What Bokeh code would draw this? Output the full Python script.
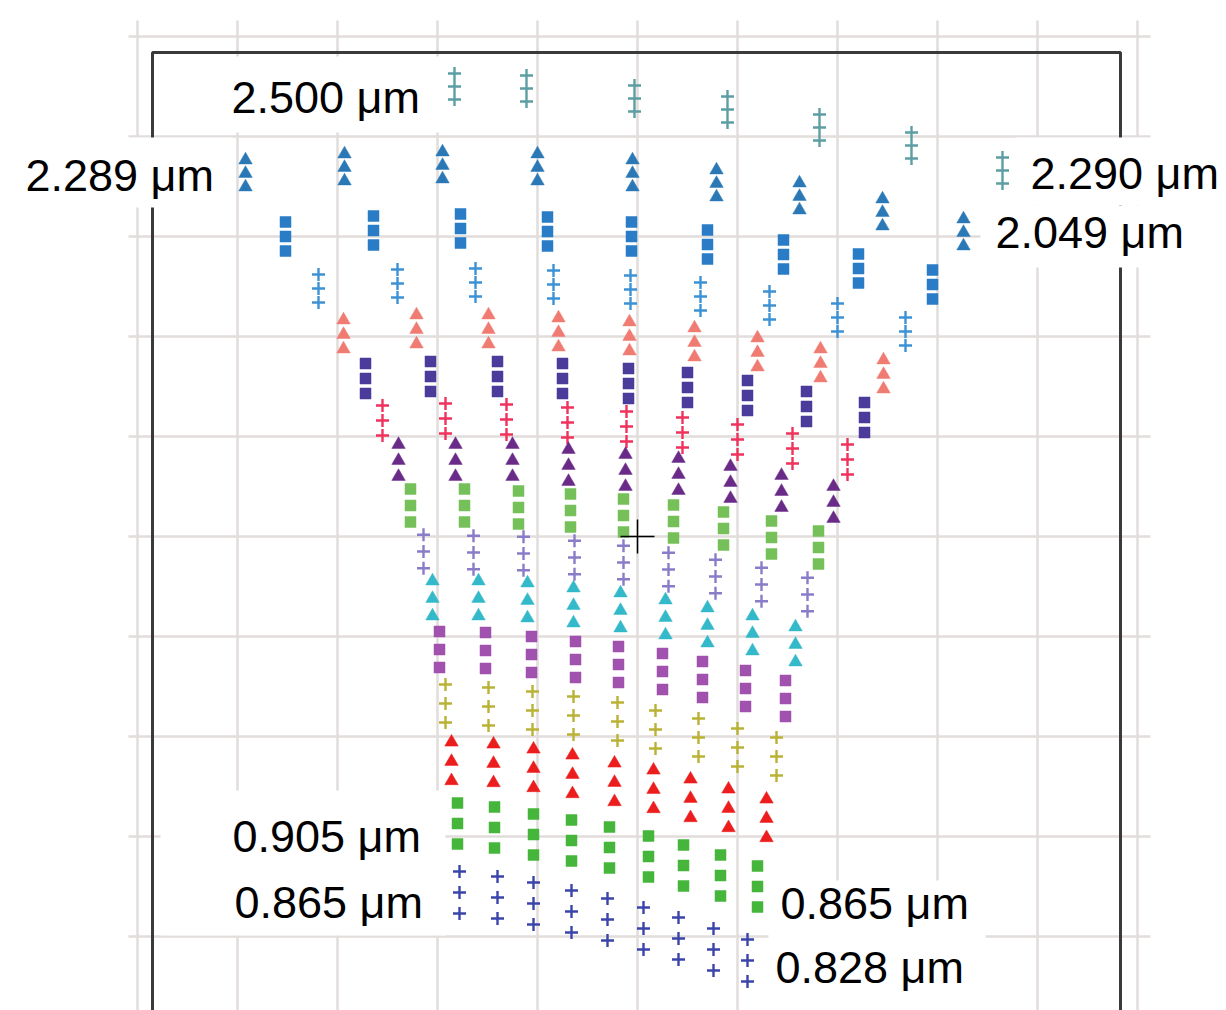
from bokeh.plotting import figure
from bokeh.models import Range1d, ColumnDataSource
from bokeh.embed import file_html
from bokeh.resources import INLINE
from bokeh.core.properties import value

# ---------------- data (focal-plane coordinates, 1 unit = 1 grid cell) -------------
# centre of each slit image, per spectral order (top to bottom), per wavelength sample
o01_x = [-1.83, -1.11, -0.03, 0.90, 1.82, 2.74, 3.65]
o01_y = [4.50, 4.48, 4.38, 4.27, 4.09, 3.91, 3.66]
o02_x = [-3.92, -2.93, -1.95, -1.00, -0.05, 0.79, 1.62, 2.45, 3.26]
o02_y = [3.63, 3.69, 3.71, 3.69, 3.63, 3.53, 3.40, 3.24, 3.04]
o03_x = [-3.52, -2.64, -1.77, -0.90, -0.06, 0.70, 1.46, 2.21, 2.95]
o03_y = [3.00, 3.06, 3.08, 3.05, 3.00, 2.92, 2.82, 2.68, 2.52]
o04_x = [-3.19, -2.40, -1.62, -0.84, -0.07, 0.63, 1.32, 2.00, 2.68]
o04_y = [2.48, 2.53, 2.54, 2.52, 2.47, 2.40, 2.31, 2.19, 2.05]
o05_x = [-2.94, -2.21, -1.49, -0.79, -0.08, 0.57, 1.20, 1.83, 2.46]
o05_y = [2.02, 2.07, 2.07, 2.04, 2.00, 1.94, 1.84, 1.73, 1.62]
o06_x = [-2.72, -2.07, -1.40, -0.75, -0.09, 0.50, 1.10, 1.69, 2.27]
o06_y = [1.58, 1.60, 1.60, 1.58, 1.53, 1.49, 1.41, 1.30, 1.19]
o07_x = [-2.55, -1.92, -1.31, -0.70, -0.11, 0.45, 1.00, 1.55, 2.10]
o07_y = [1.16, 1.18, 1.17, 1.14, 1.10, 1.04, 0.97, 0.88, 0.77]
o08_x = [-2.39, -1.82, -1.25, -0.69, -0.12, 0.41, 0.93, 1.44, 1.96]
o08_y = [0.76, 0.76, 0.76, 0.71, 0.66, 0.62, 0.54, 0.45, 0.34]
o09_x = [-2.27, -1.73, -1.19, -0.67, -0.14, 0.36, 0.86, 1.34, 1.81]
o09_y = [0.31, 0.31, 0.29, 0.26, 0.21, 0.15, 0.08, -0.01, -0.11]
o10_x = [-2.14, -1.64, -1.14, -0.63, -0.14, 0.31, 0.78, 1.24, 1.70]
o10_y = [-0.15, -0.16, -0.17, -0.21, -0.26, -0.33, -0.40, -0.48, -0.58]
o11_x = [-2.05, -1.59, -1.10, -0.64, -0.17, 0.28, 0.70, 1.15, 1.58]
o11_y = [-0.62, -0.62, -0.64, -0.69, -0.74, -0.81, -0.89, -0.97, -1.08]
o12_x = [-1.98, -1.52, -1.06, -0.62, -0.19, 0.25, 0.65, 1.08, 1.48]
o12_y = [-1.13, -1.14, -1.18, -1.23, -1.28, -1.35, -1.43, -1.52, -1.62]
o13_x = [-1.92, -1.49, -1.05, -0.64, -0.20, 0.18, 0.61, 1.00, 1.39]
o13_y = [-1.67, -1.70, -1.74, -1.79, -1.85, -1.93, -2.01, -2.11, -2.20]
o14_x = [-1.86, -1.44, -1.04, -0.65, -0.23, 0.16, 0.53, 0.91, 1.29]
o14_y = [-2.25, -2.27, -2.32, -2.38, -2.46, -2.53, -2.62, -2.72, -2.82]
o15_x = [-1.80, -1.43, -1.04, -0.66, -0.28, 0.11, 0.46, 0.83, 1.20]
o15_y = [-2.87, -2.91, -2.98, -3.04, -3.11, -3.20, -3.29, -3.39, -3.50]
o16_x = [-1.78, -1.40, -1.04, -0.66, -0.30, 0.06, 0.41, 0.76, 1.10]
o16_y = [-3.56, -3.61, -3.67, -3.75, -3.83, -3.92, -4.02, -4.13, -4.24]

# separation of the three field points within each slit image (per order)
slit_step = [0.13, 0.135, 0.145, 0.14, 0.145, 0.15, 0.15, 0.16,
             0.165, 0.167, 0.175, 0.18, 0.19, 0.193, 0.205, 0.21]
field_points = [-1, 0, 1]

order_colors = ["#5c9ea3", "#2a78b5", "#2a7cc6", "#3d92d6", "#f07b72", "#4b3b9b",
                "#f0325c", "#6a2a88", "#76c05a", "#8a7cc8", "#33b9c9", "#a052ae",
                "#b9b236", "#ec1d1d", "#45b63b", "#3b44aa"]
order_markers = ["cross", "triangle", "square"] * 5 + ["cross"]

# wavelength labels
label_text = ["2.500 μm", "2.289 μm", "2.290 μm", "2.049 μm",
              "0.905 μm", "0.865 μm", "0.865 μm", "0.828 μm"]
label_x = [-4.06, -6.12, 3.93, 3.58, -4.05, -4.03, 1.43, 1.38]
label_y = [4.39, 3.61, 3.63, 3.04, -3.00, -3.66, -3.67, -4.31]

# white label backgrounds (left, right, top, bottom)
box_l = [-4.37, -6.37, 3.78, 3.43, -4.77, 1.31]
box_r = [-1.97, -4.05, 5.89, 5.89, -1.92, 3.48]
box_t = [4.80, 3.99, 3.99, 3.31, -2.54, -3.44]
box_b = [4.04, 3.29, 3.31, 2.69, -3.99, -4.74]

grid_x = list(range(-5, 6))
grid_y = list(range(-4, 6))

orders_x = [o01_x, o02_x, o03_x, o04_x, o05_x, o06_x, o07_x, o08_x,
            o09_x, o10_x, o11_x, o12_x, o13_x, o14_x, o15_x, o16_x]
orders_y = [o01_y, o02_y, o03_y, o04_y, o05_y, o06_y, o07_y, o08_y,
            o09_y, o10_y, o11_y, o12_y, o13_y, o14_y, o15_y, o16_y]

# ---------------- figure ----------------
p = figure(width=1226, height=1010,
           x_range=Range1d(-6.37, 5.89), y_range=Range1d(-4.74, 5.36),
           x_axis_location=None, y_axis_location=None,
           toolbar_location=None, output_backend="svg",
           min_border=0, outline_line_color=None,
           background_fill_color="white", border_fill_color="white")
p.grid.visible = False

# graph-paper grid
p.segment(x0=grid_x, y0=[-4.8] * len(grid_x), x1=grid_x, y1=[5.16] * len(grid_x),
          line_color="#e0dddb", line_width=2.5)
p.segment(x0=[-5.09] * len(grid_y), y0=grid_y, x1=[5.13] * len(grid_y), y1=grid_y,
          line_color="#e0dddb", line_width=2.5)

# detector frame
p.line(x=[-4.85, -4.85, 4.83, 4.83], y=[-4.8, 4.84, 4.84, -4.8],
       line_color="#3a3a3a", line_width=3)

# label backgrounds
p.quad(left=box_l, right=box_r, top=box_t, bottom=box_b,
       fill_color="white", line_color=None)

# spot diagram
for i, (ox, oy) in enumerate(zip(orders_x, orders_y)):
    xs, ys = [], []
    for cx, cy in zip(ox, oy):
        for k in field_points:
            xs.append(cx)
            ys.append(cy + k * slit_step[i])
    src = ColumnDataSource(dict(x=xs, y=ys))
    m = order_markers[i]
    c = order_colors[i]
    if m == "cross":
        p.scatter("x", "y", source=src, marker="cross", size=13,
                  line_color=c, line_width=2.4)
    elif m == "triangle":
        p.scatter("x", "y", source=src, marker="triangle", size=13.5,
                  fill_color=c, line_color=c, line_width=0.5)
    else:
        p.scatter("x", "y", source=src, marker="square", size=11,
                  fill_color=c, line_color=c, line_width=0.5)

# optical axis marker
p.scatter(x=[0], y=[0], marker="cross", size=34, line_color="black", line_width=1.5)

# labels
p.text(x=label_x, y=label_y, text=label_text,
       text_font=value("Liberation Sans"), text_font_size="45px",
       text_color="black", text_align="left", text_baseline="middle")

open("out.html", "w").write(file_html(p, INLINE))
